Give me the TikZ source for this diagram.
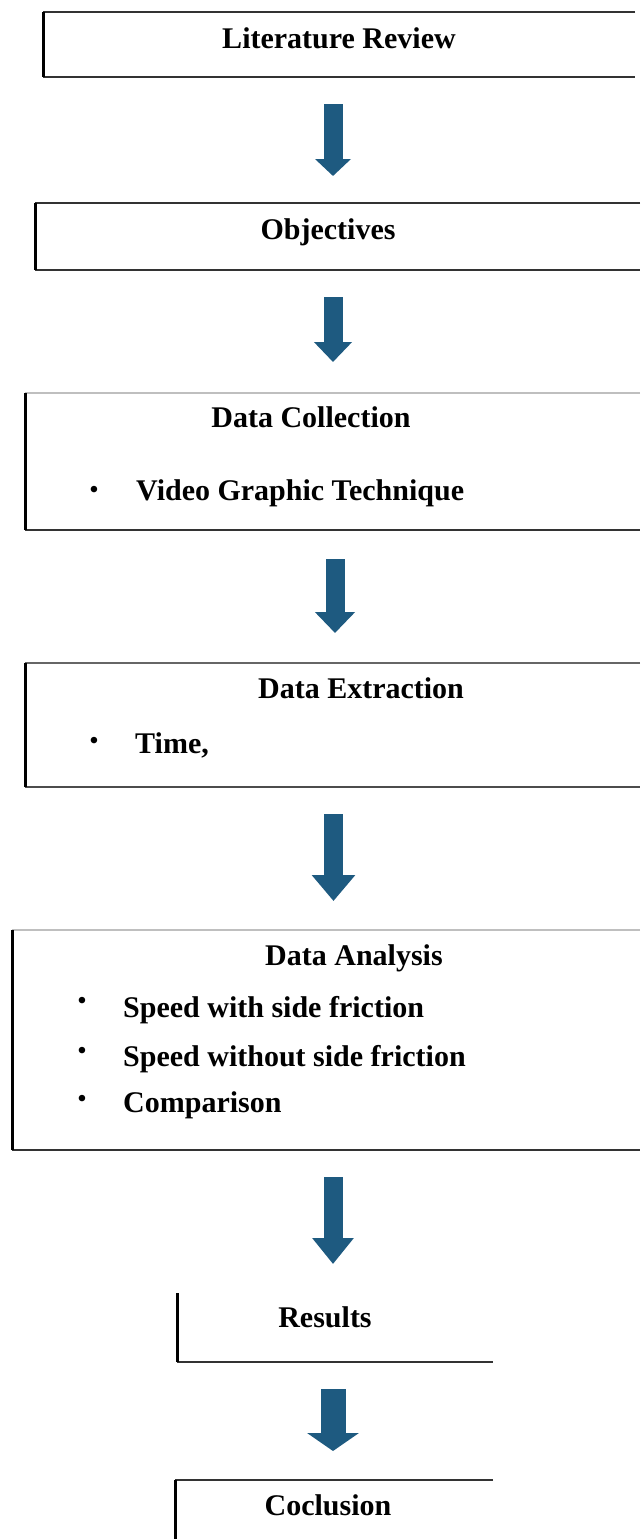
\documentclass[tikz,border=0pt]{standalone}
\usepackage{fontspec}
\setmainfont{Liberation Serif}
\usetikzlibrary{arrows.meta}
\definecolor{arrowblue}{RGB}{30,90,128}
\tikzset{
  box/.style={rectangle, draw=none, inner sep=0pt, outer sep=0pt},
  lbl/.style={font=\bfseries\fontsize{30}{36}\selectfont, inner sep=0pt, anchor=base},
  itm/.style={lbl, anchor=base west},
  bul/.style={font=\bfseries\fontsize{24}{28}\selectfont, inner sep=0pt, anchor=center},
  edgeL/.style={line width=3pt, black},
  edgeH/.style={line width=1.4pt, black!80},
  edgeHl/.style={line width=1.2pt, black!25},
  flow/.style={line width=19pt, draw=arrowblue, line cap=butt},
}
\begin{document}
\begin{tikzpicture}[x=1pt,y=-1pt]
\useasboundingbox (0,0) rectangle (640,1539);
\fill[white] (0,0) rectangle (640,1539);

% boxes
\node[box, minimum width=592pt, minimum height=65pt] (lit) at (339,44.5) {};
\node[box, minimum width=605pt, minimum height=67pt] (obj) at (337.5,236.5) {};
\node[box, minimum width=615pt, minimum height=137pt] (col) at (332.5,461.5) {};
\node[box, minimum width=615pt, minimum height=124pt] (ext) at (332.5,725) {};
\node[box, minimum width=628pt, minimum height=220pt] (ana) at (326,1040) {};
\node[box, minimum width=316pt, minimum height=69pt] (res) at (335,1327.5) {};
\node[box, minimum width=318pt, minimum height=65pt] (con) at (334,1512.5) {};

% borders
\draw[edgeH] (lit.north east) -- (lit.north west);
\draw[edgeH] (lit.south west) -- (lit.south east);
\draw[edgeL] (lit.north west) -- (lit.south west);

\draw[edgeH] (obj.north east) -- (obj.north west);
\draw[edgeH] (obj.south west) -- (obj.south east);
\draw[edgeL] (obj.north west) -- (obj.south west);

\draw[edgeHl] (col.north east) -- (col.north west);
\draw[edgeH] (col.south west) -- (col.south east);
\draw[edgeL] (col.north west) -- (col.south west);

\draw[edgeH, black!60] (ext.north east) -- (ext.north west);
\draw[edgeH, black!70] (ext.south west) -- (ext.south east);
\draw[edgeL] (ext.north west) -- (ext.south west);

\draw[edgeHl] (ana.north east) -- (ana.north west);
\draw[edgeH] (ana.south west) -- (ana.south east);
\draw[edgeL] (ana.north west) -- (ana.south west);

\draw[edgeH] (res.south west) -- (res.south east);
\draw[edgeL] (res.north west) -- (res.south west);

\draw[edgeH] (con.north east) -- (con.north west);
\draw[edgeL] (con.north west) -- (con.south west);

% texts
\node[lbl] (tlit) at (339,48) {Literature Review};
\node[lbl] (tobj) at (328,239) {Objectives};
\node[lbl] (tcol) at (311,427) {Data Collection};
\node[bul] (bcol) at (94,492) {•};
\node[itm] (icol) at (136,500) {Video Graphic Technique};
\node[lbl] (text) at (361,698) {Data Extraction};
\node[bul] (bext) at (94,743) {•};
\node[itm] (iext) at (135,753) {Time,};
\node[lbl] (tana) at (354,965) {Data Analysis};
\node[bul] (bana1) at (82,1003) {•};
\node[itm] (iana1) at (123,1017) {Speed with side friction};
\node[bul] (bana2) at (82,1053) {•};
\node[itm] (iana2) at (123,1066) {Speed without side friction};
\node[bul] (bana3) at (82,1101) {•};
\node[itm] (iana3) at (123,1112) {Comparison};
\node[lbl] (tres) at (325,1327) {Results};
\node[lbl] (tcon) at (328,1515) {Coclusion};

% arrows
\coordinate (a1s) at (333,104);  \coordinate (a1e) at (333,176);
\coordinate (a2s) at (333,297);  \coordinate (a2e) at (333,362);
\coordinate (a3s) at (335,559);  \coordinate (a3e) at (335,633);
\coordinate (a4s) at (333.5,814); \coordinate (a4e) at (333.5,901);
\coordinate (a5s) at (333,1177); \coordinate (a5e) at (333,1264);
\coordinate (a6s) at (333,1389); \coordinate (a6e) at (333,1451);
\draw[flow, -{Triangle[width=35pt,length=17pt]}] (a1s) -- (a1e);
\draw[flow, -{Triangle[width=37pt,length=20pt]}] (a2s) -- (a2e);
\draw[flow, -{Triangle[width=39pt,length=21pt]}] (a3s) -- (a3e);
\draw[flow, -{Triangle[width=42pt,length=26pt]}] (a4s) -- (a4e);
\draw[flow, -{Triangle[width=40pt,length=26pt]}] (a5s) -- (a5e);
\draw[flow, line width=25pt, -{Triangle[width=51pt,length=18pt]}] (a6s) -- (a6e);
\end{tikzpicture}
\end{document}
